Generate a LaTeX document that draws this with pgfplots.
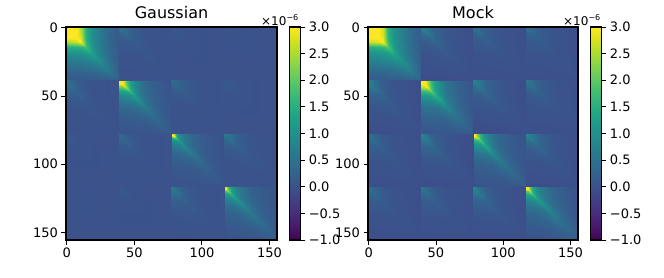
\documentclass[border=0pt]{standalone}
\usepackage{fontspec}
\setmainfont{DejaVu Sans}
\usepackage{pgfplots}
\usepackage{pgfplotstable}
\pgfplotsset{compat=1.18}
\pgfplotstableread{
X Y G1 G2 G3 G4 M1 M2 M3 M4
0 0 300 300 300 300 300 300 300 300
0 0 300 300 300 300 300 300 300 300
0 0 300 300 300 300 300 300 300 300
0 0 300 300 300 300 300 300 300 300
0 0 300 300 300 300 300 300 300 300
0 0 300 300 300 300 300 300 300 300
1.5 0 300 300 260 280 300 300 300 290
1.5 0.53 300 300 263 282 300 300 300 291
1.5 0.98 300 300 272 286 300 300 300 293
1.5 1.28 300 300 288 294 300 300 300 297
1.5 1.43 300 300 297 298 300 300 300 299
1.5 1.5 300 300 300 300 300 300 300 300
3 0 300 290 150 180 300 300 220 200
3 1.05 300 291 153 184 300 300 223 204
3 1.95 300 293 162 195 300 300 232 215
3 2.55 300 297 178 215 300 300 248 235
3 2.85 300 299 187 226 300 300 257 246
3 3 300 300 190 230 300 300 260 250
5 0 300 200 105 125 300 260 160 145
5 1.75 300 204 107 128 300 263 163 148
5 3.25 300 215 114 136 300 272 171 157
5 4.25 300 235 126 150 300 288 185 173
5 4.75 300 246 133 157 300 297 192 182
5 5 300 250 135 160 300 300 195 185
8 0 300 130 70 85 300 170 110 100
8 2.8 300 133 72 88 300 173 113 103
8 5.2 300 142 79 96 300 182 122 112
8 6.8 300 158 91 110 300 198 138 128
8 7.6 300 167 98 117 300 207 147 137
8 8 300 170 100 120 300 210 150 140
11 0 250 90 50 60 270 120 75 70
11 3.85 254 93 52 63 272 123 79 74
11 7.15 265 101 59 72 279 132 89 84
11 9.35 285 115 71 88 291 148 107 102
11 10.45 296 122 78 97 298 157 116 111
11 11 300 125 80 100 300 160 120 115
15 0 150 60 30 40 150 80 50 48
15 5.25 152 63 32 43 153 84 53 51
15 9.75 158 71 39 52 162 94 62 61
15 12.75 168 85 51 68 178 112 78 77
15 14.25 173 92 58 77 187 121 87 87
15 15 175 95 60 80 190 125 90 90
19.5 0 95 35 20 25 100 50 30 30
19.5 6.83 97 37 22 28 103 53 33 33
19.5 12.68 104 44 27 36 111 61 41 42
19.5 16.58 116 56 35 50 125 75 55 58
19.5 18.53 123 63 40 57 132 82 62 67
19.5 19.5 125 65 42 60 135 85 65 70
25.5 0 60 20 10 15 70 30 18 18
25.5 8.93 62 22 11 17 72 32 20 21
25.5 16.58 69 27 15 23 79 38 26 28
25.5 21.68 81 35 21 34 91 48 37 40
25.5 24.23 88 40 25 40 98 53 43 47
25.5 25.5 90 42 26 42 100 55 45 50
32 0 30 10 5 8 35 15 8 8
32 11.2 32 11 6 10 38 17 10 10
32 20.8 38 15 8 14 46 21 15 16
32 27.2 50 21 12 22 60 29 23 27
32 30.4 56 24 14 26 67 33 28 33
32 32 58 25 15 28 70 35 30 35
39 0 8 2 0 3 12 5 2 3
39 13.65 9 3 0 4 13 6 3 4
39 25.35 12 4 1 6 16 7 4 8
39 33.15 16 8 3 11 21 10 8 14
39 37.05 19 9 4 13 24 11 9 17
39 39 20 10 4 14 25 12 10 18
}\diagdata
\pgfplotstableread{
X Y G12 G13 G14 G23 G24 G34 M12 M13 M14 M23 M24 M34
0 0 55 10 6 40 12 65 85 55 50 85 60 90
0 0 55 10 6 40 12 65 85 55 50 85 60 90
0 0 55 10 6 40 12 65 85 55 50 85 60 90
0 0 55 10 6 40 12 65 85 55 50 85 60 90
0 0 55 10 6 40 12 65 85 55 50 85 60 90
3.9 0 39 7 4 28 8 46 60 39 35 60 42 63
3.9 1.95 40 7 4 29 9 47 61 40 36 61 43 65
3.9 3.9 43 8 5 31 9 51 66 43 39 66 47 70
1.95 3.9 36 7 4 26 8 42 55 36 33 55 39 59
0 3.9 30 6 3 22 7 36 47 30 28 47 33 50
9.75 0 17 3 2 12 4 20 26 17 15 26 18 27
9.75 4.88 18 3 2 13 4 21 27 18 16 27 19 29
9.75 9.75 20 4 2 14 4 23 31 20 18 31 22 32
4.88 9.75 14 3 2 10 3 17 22 14 13 22 16 23
0 9.75 11 2 1 8 2 13 17 11 10 17 12 18
19.5 0 4 1 0 3 1 5 7 4 4 7 5 7
19.5 9.75 4 1 0 3 1 5 7 4 4 7 5 7
19.5 19.5 6 1 1 4 1 7 9 6 5 9 6 9
9.75 19.5 3 1 0 2 1 4 5 3 3 5 4 5
0 19.5 2 0 0 2 0 3 3 2 2 3 2 4
39 0 0 0 0 0 0 0 -6 -5 -5 -8 -4 -6
39 19.5 0 0 0 0 0 0 -5 -4 -4 -6 -3 -5
39 39 1 0 0 0 0 1 -3 -3 -2 -4 -2 -3
19.5 39 0 0 0 0 0 0 -6 -5 -5 -8 -4 -6
0 39 0 0 0 0 0 0 -6 -5 -5 -8 -4 -6
}\offdata
\newcommand\diagp[2]{%
 \addplot[surf,shader=interp,mesh/rows=11,mesh/cols=6,point meta=explicit] table[x expr=\thisrow{X}+#2,y expr=\thisrow{Y}+#2,meta=#1]{\diagdata};
 \addplot[surf,shader=interp,mesh/rows=11,mesh/cols=6,point meta=explicit] table[x expr=\thisrow{Y}+#2,y expr=\thisrow{X}+#2,meta=#1]{\diagdata};
}
\newcommand\offp[3]{%
 \addplot[surf,shader=interp,mesh/rows=5,mesh/cols=5,point meta=explicit] table[x expr=\thisrow{X}+#2,y expr=\thisrow{Y}+#3,meta=#1]{\offdata};
 \addplot[surf,shader=interp,mesh/rows=5,mesh/cols=5,point meta=explicit] table[x expr=\thisrow{Y}+#3,y expr=\thisrow{X}+#2,meta=#1]{\offdata};
}
\pgfplotsset{panel/.style={
  scale only axis,height=213pt,
  xmin=-0.5,xmax=155.5,ymin=-0.5,ymax=155.5,y dir=reverse,
  xtick={0,50,100,150},ytick={0,50,100,150},
  tick align=outside,tick style={black,line width=0.9pt},major tick length=4.5pt,
  xtick pos=bottom,ytick pos=left,
  axis line style={line width=1.1pt},axis on top,
  /pgf/number format/assume math mode=true,
  tick label style={font=\fontsize{13}{15}\selectfont},
  title style={font=\fontsize{16}{19}\selectfont,yshift=-1pt},
  colormap/viridis,point meta min=-100,point meta max=300,
  colorbar,colorbar shift/.style={xshift=4.5pt},
  colorbar style={width=11pt,
    ytick={-100,-50,0,50,100,150,200,250,300},
    yticklabels={−1.0,−0.5,0.0,0.5,1.0,1.5,2.0,2.5,3.0},
    ytick pos=right,yticklabel pos=right,tick align=outside,
    major tick length=4.5pt,tick style={black,line width=0.9pt},
    axis line style={line width=1.1pt},
    yticklabel style={font=\fontsize{13}{15}\selectfont}}
}}
\begin{document}
\begin{tikzpicture}[x=1pt,y=1pt]
\path[use as bounding box] (0,0) rectangle (664,277);
\begin{axis}[panel,at={(66pt,37pt)},anchor=south west,width=211pt,title={Gaussian}]
\diagp{G1}{-0.5}\diagp{G2}{38.5}\diagp{G3}{77.5}\diagp{G4}{116.5}
\offp{G12}{38.5}{-0.5}\offp{G13}{77.5}{-0.5}\offp{G14}{116.5}{-0.5}
\offp{G23}{77.5}{38.5}\offp{G24}{116.5}{38.5}\offp{G34}{116.5}{77.5}
\end{axis}
\begin{axis}[panel,at={(368pt,37pt)},anchor=south west,width=210pt,title={Mock}]
\diagp{M1}{-0.5}\diagp{M2}{38.5}\diagp{M3}{77.5}\diagp{M4}{116.5}
\offp{M12}{38.5}{-0.5}\offp{M13}{77.5}{-0.5}\offp{M14}{116.5}{-0.5}
\offp{M23}{77.5}{38.5}\offp{M24}{116.5}{38.5}\offp{M34}{116.5}{77.5}
\end{axis}
\node[anchor=base east,font=\fontsize{12}{14}\selectfont,inner sep=0pt] at (299,252) {×10\textsuperscript{−6}};
\node[anchor=base east,font=\fontsize{12}{14}\selectfont,inner sep=0pt] at (601,252) {×10\textsuperscript{−6}};
\end{tikzpicture}
\end{document}
